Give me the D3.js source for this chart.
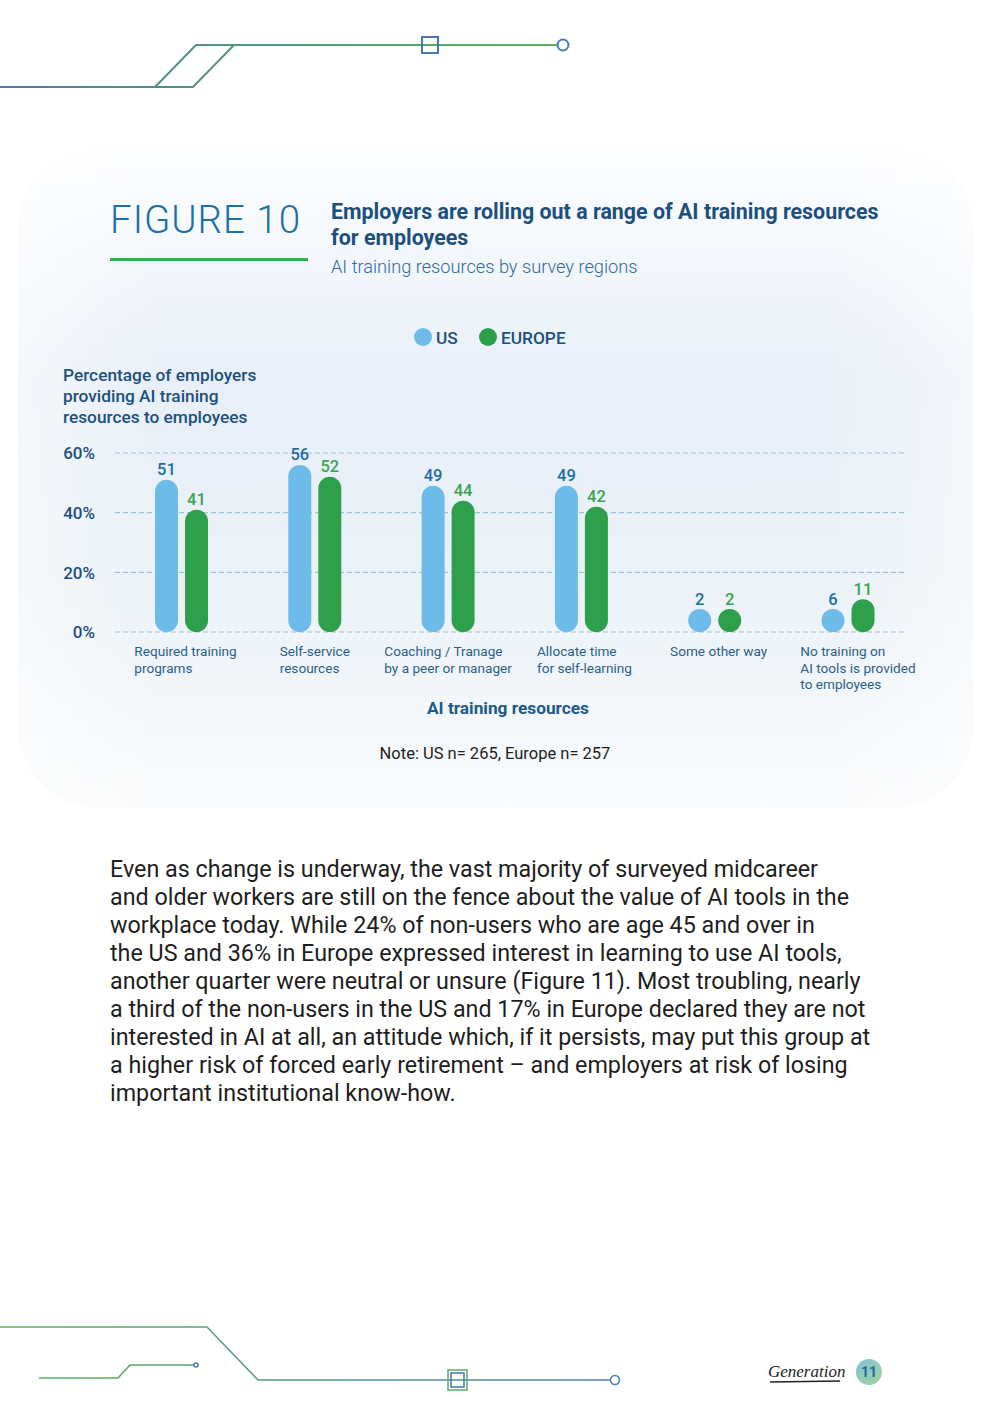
<!DOCTYPE html>
<html><head><meta charset="utf-8">
<script src="https://cdn.jsdelivr.net/npm/d3@7"></script>
<style>
html,body{margin:0;padding:0;background:#fff;}
svg{display:block;font-family:Roboto,"Noto Sans",sans-serif;}
</style></head>
<body>
<svg id="c" width="992" height="1403"></svg>
<script>
const categories = [
  ["Required training","programs"],
  ["Self-service","resources"],
  ["Coaching / Tranage","by a peer or manager"],
  ["Allocate time","for self-learning"],
  ["Some other way"],
  ["No training on","AI tools is provided","to employees"]
];
const usValues = [51, 56, 49, 49, 2, 6];
const europeValues = [41, 52, 44, 42, 2, 11];
const seriesNames = ["US", "EUROPE"];
const yTicks = [0, 20, 40, 60];
const bodyLines = [
  "Even as change is underway, the vast majority of surveyed midcareer",
  "and older workers are still on the fence about the value of AI tools in the",
  "workplace today. While 24% of non-users who are age 45 and over in",
  "the US and 36% in Europe expressed interest in learning to use AI tools,",
  "another quarter were neutral or unsure (Figure 11). Most troubling, nearly",
  "a third of the non-users in the US and 17% in Europe declared they are not",
  "interested in AI at all, an attitude which, if it persists, may put this group at",
  "a higher risk of forced early retirement – and employers at risk of losing",
  "important institutional know-how."
];

const svg = d3.select("#c");
const defs = svg.append("defs");

const bg = defs.append("linearGradient").attr("id","bgGrad").attr("x1",0).attr("y1",0).attr("x2",0).attr("y2",1);
bg.append("stop").attr("offset","0%").attr("stop-color","#fdfeff");
bg.append("stop").attr("offset","35%").attr("stop-color","#e8eff7");
bg.append("stop").attr("offset","65%").attr("stop-color","#eaf1f7");
bg.append("stop").attr("offset","100%").attr("stop-color","#fafbfc");
const bgH = defs.append("linearGradient").attr("id","bgGradH").attr("x1",0).attr("y1",0).attr("x2",1).attr("y2",0);
bgH.append("stop").attr("offset","0%").attr("stop-color","#fff").attr("stop-opacity",0.5);
bgH.append("stop").attr("offset","15%").attr("stop-color","#fff").attr("stop-opacity",0);
bgH.append("stop").attr("offset","85%").attr("stop-color","#fff").attr("stop-opacity",0);
bgH.append("stop").attr("offset","100%").attr("stop-color","#fff").attr("stop-opacity",0.5);

const lineGrad = defs.append("linearGradient").attr("id","lineGrad").attr("gradientUnits","userSpaceOnUse")
  .attr("x1",0).attr("y1",0).attr("x2",570).attr("y2",0);
lineGrad.append("stop").attr("offset","0%").attr("stop-color","#4b7f9f");
lineGrad.append("stop").attr("offset","100%").attr("stop-color","#5db659");
const lineGrad2 = defs.append("linearGradient").attr("id","lineGrad2").attr("gradientUnits","userSpaceOnUse")
  .attr("x1",0).attr("y1",0).attr("x2",620).attr("y2",0);
lineGrad2.append("stop").attr("offset","0%").attr("stop-color","#5cb25e");
lineGrad2.append("stop").attr("offset","100%").attr("stop-color","#4f7fb0");
const badge = defs.append("linearGradient").attr("id","badge").attr("x1",0).attr("y1",0).attr("x2",1).attr("y2",1);
badge.append("stop").attr("offset","0%").attr("stop-color","#7fc2d8");
badge.append("stop").attr("offset","100%").attr("stop-color","#a6d39a");

svg.append("rect").attr("x",18).attr("y",148).attr("width",955).attr("height",660)
  .attr("rx",80).attr("fill","url(#bgGrad)");
svg.append("rect").attr("x",18).attr("y",148).attr("width",955).attr("height",660)
  .attr("rx",80).attr("fill","url(#bgGradH)");

// decorative lines top
const deco = svg.append("g").attr("fill","none").attr("stroke","url(#lineGrad)").attr("stroke-width",2);
deco.append("path").attr("d","M0,87 H193 L234,45 M155,87 L196,45 H557");
deco.append("rect").attr("x",422).attr("y",37).attr("width",16).attr("height",16).attr("stroke","#4a78b0");
deco.append("circle").attr("cx",563).attr("cy",45).attr("r",5.5).attr("stroke","#4a7fb0");
// bottom
const deco2 = svg.append("g").attr("fill","none").attr("stroke","url(#lineGrad2)").attr("stroke-width",1.6);
deco2.append("path").attr("d","M0,1327 H207 L258,1380 H610");
deco2.append("path").attr("d","M39,1378 H118 L130,1365 H194");
deco2.append("circle").attr("cx",196).attr("cy",1365).attr("r",2).attr("stroke","#4f7fb0");
deco2.append("circle").attr("cx",615).attr("cy",1380).attr("r",4.5).attr("stroke","#4f7fb0");
deco2.append("rect").attr("x",448).attr("y",1370).attr("width",19).attr("height",20).attr("stroke","#6ab06a");
deco2.append("rect").attr("x",451).attr("y",1373).attr("width",13).attr("height",14).attr("stroke","#4f7fb0");

// header
svg.append("text").attr("x",110).attr("y",233).attr("font-size",38.5).attr("font-weight",300)
  .attr("fill","#1a6fa8").attr("letter-spacing",1).text("FIGURE 10");
svg.append("rect").attr("x",110).attr("y",258).attr("width",198).attr("height",3).attr("fill","#3aaa4a");
svg.append("text").attr("x",331).attr("y",219).attr("font-size",21.4).attr("font-weight",700)
  .attr("fill","#1d4f7c").text("Employers are rolling out a range of AI training resources");
svg.append("text").attr("x",331).attr("y",245).attr("font-size",21.4).attr("font-weight",700)
  .attr("fill","#1d4f7c").text("for employees");
svg.append("text").attr("x",331).attr("y",273).attr("font-size",18.2).attr("font-weight",300)
  .attr("fill","#2f6a9a").text("AI training resources by survey regions");

// legend
const colors = {US:"#6dbbe8", EUROPE:"#2ea04b"};
const labelColors = {US:"#1c6ca3", EUROPE:"#3aa34e"};
const leg = svg.append("g");
const legX = [423, 488];
seriesNames.forEach((s,i)=>{
  leg.append("circle").attr("cx",legX[i]).attr("cy",337).attr("r",9).attr("fill",colors[s]);
  leg.append("text").attr("x",legX[i]+13).attr("y",343.5).attr("font-size",17.3).attr("font-weight",500)
    .attr("fill","#1d4f7c").text(s);
});

// y axis title
["Percentage of employers","providing AI training","resources to employees"].forEach((t,i)=>{
  svg.append("text").attr("x",63).attr("y",381+i*21).attr("font-size",17.3).attr("font-weight",500)
    .attr("fill","#1d4f7c").text(t);
});

// scales
const y = d3.scaleLinear().domain([0,60]).range([632,453]);
const x = d3.scalePoint().domain(d3.range(categories.length)).range([181.5,848]);
const barW = 23, gap = 15;

// gridlines
const grid = svg.append("g");
yTicks.forEach(t=>{
  grid.append("line").attr("x1",115).attr("x2",905).attr("y1",y(t)).attr("y2",y(t))
    .attr("stroke","#9ec2da").attr("stroke-width",1.2).attr("stroke-dasharray","5,3");
});
const yAxis = d3.axisLeft(y).tickValues(yTicks).tickFormat(d=>d+"%").tickSize(0).tickPadding(0);
const ya = svg.append("g").attr("transform","translate(95,0)").call(yAxis);
ya.select(".domain").remove();
ya.selectAll("text").attr("font-size",17).attr("font-weight",500).attr("fill","#1d4f7c")
  .attr("font-family","Roboto,sans-serif").attr("dy","0.35em");

// bars
const series = [
  {name:"US", values:usValues, off:-gap},
  {name:"EUROPE", values:europeValues, off:gap}
];
series.forEach(s=>{
  const g = svg.append("g");
  s.values.forEach((v,i)=>{
    const cx = x(i)+s.off;
    let h = y(0)-y(v);
    if (h < barW) h = barW;
    const top = y(0)-h;
    g.append("rect").attr("x",cx-barW/2).attr("y",top).attr("width",barW).attr("height",h)
      .attr("rx",barW/2).attr("fill",colors[s.name]);
    g.append("text").attr("x",cx).attr("y",top-4.5).attr("text-anchor","middle")
      .attr("font-size",16.5).attr("font-weight",500).attr("fill",labelColors[s.name]).text(v);
  });
});

// category labels (left-aligned blocks roughly centred under each group)
const labelShift = [4, 0, 0, 3, 4, 10];
categories.forEach((lines,i)=>{
  const g = svg.append("g");
  const ts = lines.map((l,j)=>g.append("text").attr("y",656+j*16.5).attr("font-size",13.6)
    .attr("fill","#2b5f88").text(l));
  const w = d3.max(ts, t=>t.node().getComputedTextLength());
  ts.forEach(t=>t.attr("x",x(i)-w/2+labelShift[i]));
});

svg.append("text").attr("x",508).attr("y",714).attr("text-anchor","middle").attr("font-size",17.3)
  .attr("font-weight",700).attr("fill","#1d5a8a").text("AI training resources");
svg.append("text").attr("x",495).attr("y",759).attr("text-anchor","middle").attr("font-size",16.5)
  .attr("fill","#222").text("Note: US n= 265, Europe n= 257");

// body text
bodyLines.forEach((l,i)=>{
  svg.append("text").attr("x",110).attr("y",877+i*28).attr("font-size",23.3).attr("fill","#1e1e1e").text(l);
});

// footer
svg.append("text").attr("x",768).attr("y",1377).attr("font-size",17).attr("font-style","italic")
  .attr("font-family","'Liberation Serif',serif").attr("fill","#222").text("Generation");
svg.append("line").attr("x1",770).attr("x2",840).attr("y1",1382).attr("y2",1381).attr("stroke","#222").attr("stroke-width",1.5);
svg.append("circle").attr("cx",869).attr("cy",1372).attr("r",13).attr("fill","url(#badge)");
svg.append("text").attr("x",869).attr("y",1377).attr("text-anchor","middle").attr("font-size",14)
  .attr("font-weight",700).attr("fill","#1c6ca3").text("11");
</script>
</body></html>
